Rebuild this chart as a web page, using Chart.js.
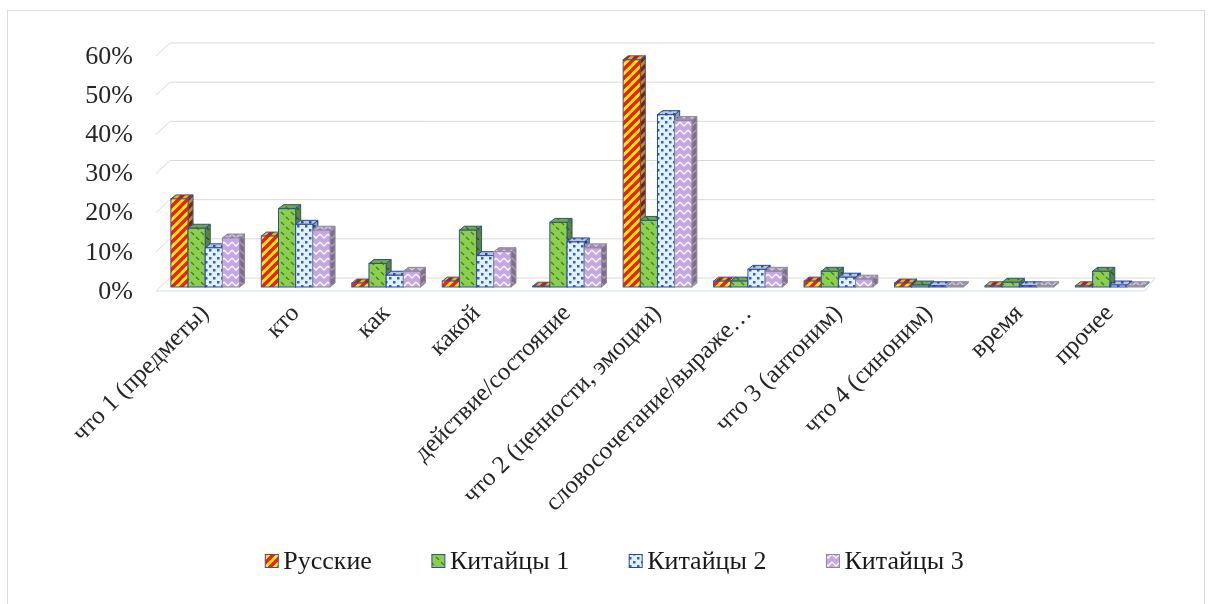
<!DOCTYPE html>
<html>
<head>
<meta charset="utf-8">
<script src="https://cdn.jsdelivr.net/npm/chart.js@4/dist/chart.umd.min.js"></script>
<style>
    body { margin: 0; background: #fff; }
    #frame { position: absolute; left: 7px; top: 10px; width: 1198px; height: 600px; border: 1px solid #dcdcdc; box-sizing: border-box; }
    #wrap { position: absolute; left: 0; top: 0; width: 1209px; height: 604px; }
</style>
</head>
<body>
<div id="frame"></div>
<div id="wrap"><canvas id="chart"></canvas></div>
<script>
// --- data ---
const categories = ['что 1 (предметы)', 'кто', 'как', 'какой', 'действие/состояние', 'что 2 (ценности, эмоции)',
    'словосочетание/выраже…', 'что 3 (антоним)', 'что 4 (синоним)', 'время', 'прочее'];
const seriesNames = ['Русские', 'Китайцы 1', 'Китайцы 2', 'Китайцы 3'];
const russkie  = [22.5, 13, 1, 1.5, 0.2, 58, 1.5, 1.5, 1, 0.3, 0.3];
const kitaitsy1 = [15, 20, 6, 14.5, 16.5, 17, 1.5, 4, 0.5, 1.2, 4];
const kitaitsy2 = [10, 16, 3, 8, 11.5, 44, 4.5, 2.5, 0.3, 0.3, 0.5];
const kitaitsy3 = [12.5, 14.5, 4, 9, 10, 42.5, 4, 2, 0.3, 0.3, 0.3];
const yTicks = [0, 10, 20, 30, 40, 50, 60];

const SERIF = "'Liberation Serif', 'Times New Roman', serif";

// --- patterns ---
function tile(size, draw) {
    const c = document.createElement('canvas');
    c.width = size; c.height = size;
    const g = c.getContext('2d');
    draw(g, size);
    return g.createPattern(c, 'repeat');
}
const ctx = document.getElementById('chart').getContext('2d');

const patRed = tile(9, (g, s) => {
    g.fillStyle = '#ffee00'; g.fillRect(0, 0, s, s);
    g.strokeStyle = '#ee1c1c'; g.lineWidth = 3.4;
    for (const o of [-s, 0, s]) {
        g.beginPath(); g.moveTo(o - 1, s + 1); g.lineTo(o + s + 1, -1); g.stroke();
    }
});
const patGreen = tile(10, (g, s) => {
    g.fillStyle = '#8ccf4e'; g.fillRect(0, 0, s, s);
    g.strokeStyle = '#3f7d22'; g.lineWidth = 1.2;
    g.beginPath(); g.moveTo(1, 2); g.lineTo(4, 5); g.stroke();
    g.beginPath(); g.moveTo(6, 7); g.lineTo(9, 10); g.stroke();
});
const patBlue = tile(8, (g, s) => {
    g.fillStyle = '#e4f2ff'; g.fillRect(0, 0, s, s);
    g.fillStyle = '#2a62c9';
    g.fillRect(1, 1, 2.5, 2.5);
    g.fillRect(5, 5, 2.5, 2.5);
});
const patPurple = tile(8, (g, s) => {
    g.fillStyle = '#c7a6e6'; g.fillRect(0, 0, s, s);
    g.strokeStyle = '#ffffff'; g.lineWidth = 1.3;
    g.beginPath(); g.moveTo(0, 2); g.lineTo(4, 6); g.lineTo(8, 2); g.stroke();
});

const fills = [patRed, patGreen, patBlue, patPurple];
const borders = ['#3b55a8', '#2f4f9a', '#2848a8', '#8a8a96'];

// --- back wall grid ---
const wallGrid = {
    id: 'wallGrid',
    beforeDatasetsDraw(chart) {
        const { ctx, chartArea } = chart;
        const ys = chart.scales.y;
        ctx.save();
        ctx.lineWidth = 1;
        yTicks.forEach(v => {
            const y = ys.getPixelForValue(v);
            ctx.strokeStyle = '#d9d9d9';
            ctx.beginPath();
            ctx.moveTo(chartArea.left - 4, y + 4);
            ctx.lineTo(chartArea.left + 10, y - 9);
            ctx.lineTo(chartArea.right, y - 9);
            ctx.stroke();
        });
        const y0 = ys.getPixelForValue(0);
        ctx.strokeStyle = '#cfe0ee';
        ctx.beginPath();
        ctx.moveTo(chartArea.left - 4, y0 + 4);
        ctx.lineTo(chartArea.right - 10, y0 + 4);
        ctx.lineTo(chartArea.right, y0 - 9);
        ctx.stroke();
        ctx.restore();
    }
};

// --- 3d bars ---
const bars3d = {
    id: 'bars3d',
    beforeDatasetsDraw(chart) {
        const c = chart.ctx;
        const dx = 5, dy = -4;
        c.save();
        chart.data.datasets.forEach((ds, i) => {
            const meta = chart.getDatasetMeta(i);
            meta.data.forEach(el => {
                const p = el.getProps(['x', 'y', 'base', 'width'], true);
                const l = p.x - p.width / 2, r = p.x + p.width / 2;
                const t = Math.min(p.y, p.base), b = p.base;
                c.lineWidth = 1;
                c.strokeStyle = ds.borderColor;
                // side
                c.beginPath();
                c.moveTo(r, t); c.lineTo(r + dx, t + dy); c.lineTo(r + dx, b + dy); c.lineTo(r, b); c.closePath();
                c.fillStyle = ds.backgroundColor; c.fill();
                c.fillStyle = 'rgba(0,0,0,0.35)'; c.fill();
                c.stroke();
                // top
                c.beginPath();
                c.moveTo(l, t); c.lineTo(l + dx, t + dy); c.lineTo(r + dx, t + dy); c.lineTo(r, t); c.closePath();
                c.fillStyle = ds.backgroundColor; c.fill();
                c.fillStyle = 'rgba(0,0,0,0.18)'; c.fill();
                c.stroke();
                // front
                c.fillStyle = ds.backgroundColor;
                c.fillRect(l, t, r - l, b - t);
                c.strokeRect(l, t, r - l, b - t);
            });
        });
        c.restore();
        return false;
    }
};

// --- legend ---
const legendRow = {
    id: 'legendRow',
    afterDraw(chart) {
        const c = chart.ctx;
        const gap = 60, box = 13, textGap = 5, yMid = 561;
        c.save();
        c.font = '26px ' + SERIF;
        c.textBaseline = 'middle';
        const widths = chart.data.datasets.map(ds => box + textGap + c.measureText(ds.label).width);
        const total = widths.reduce((a, w) => a + w, 0) + gap * (widths.length - 1);
        let x = (chart.width - total) / 2 + 10;
        chart.data.datasets.forEach((ds, i) => {
            c.fillStyle = ds.backgroundColor;
            c.fillRect(x, yMid - box / 2, box, box);
            c.strokeStyle = ds.borderColor;
            c.lineWidth = 1;
            c.strokeRect(x, yMid - box / 2, box, box);
            c.fillStyle = '#1a1a1a';
            c.fillText(ds.label, x + box + textGap, yMid + 1);
            x += widths[i] + gap;
        });
        c.restore();
    }
};

const seriesValues = [russkie, kitaitsy1, kitaitsy2, kitaitsy3];

new Chart(ctx, {
    type: 'bar',
    data: {
        labels: categories,
        datasets: seriesNames.map((name, i) => ({
            label: name,
            data: seriesValues[i],
            backgroundColor: fills[i],
            borderColor: borders[i],
            borderWidth: 1,
            categoryPercentage: 0.76,
            barPercentage: 1,
        }))
    },
    options: {
        responsive: true,
        maintainAspectRatio: false,
        animation: false,
        layout: { padding: { top: 52, right: 54, bottom: 0, left: 0 } },
        plugins: { legend: { display: false }, tooltip: { enabled: false } },
        scales: {
            y: {
                min: 0, max: 60,
                ticks: {
                    stepSize: 10,
                    callback: v => v + '%',
                    font: { family: SERIF, size: 26 },
                    color: '#262626',
                    padding: 27,
                    labelOffset: 5,
                },
                grid: { display: false, drawTicks: false },
                border: { display: false },
                afterFit: s => { s.width = 160; }
            },
            x: {
                ticks: {
                    autoSkip: false,
                    maxRotation: 45, minRotation: 45,
                    font: { family: SERIF, size: 25 },
                    color: '#262626',
                    padding: 12,
                },
                grid: { display: false, drawTicks: false },
                border: { display: false },
                afterFit: s => { s.height = 317; }
            }
        }
    },
    plugins: [wallGrid, bars3d, legendRow]
});
</script>
</body>
</html>
